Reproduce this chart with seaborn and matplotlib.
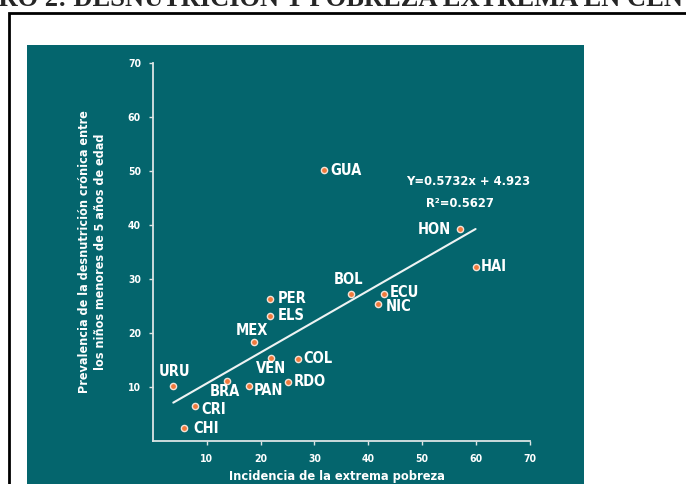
import numpy as np
import pandas as pd
import matplotlib
matplotlib.use("Agg")
import matplotlib.pyplot as plt
from matplotlib.patches import Rectangle
import seaborn as sns

# datos
paises = ["GUA", "HON", "HAI", "BOL", "ECU", "NIC", "PER", "ELS", "MEX",
          "VEN", "COL", "RDO", "BRA", "PAN", "URU", "CRI", "CHI"]
pobreza = [31.8, 57.0, 59.9, 36.7, 42.9, 41.7, 21.7, 21.7, 18.8,
           21.9, 26.9, 25.0, 13.7, 17.9, 3.8, 7.8, 5.7]
desnutricion = [50.1, 39.2, 32.3, 27.2, 27.2, 25.3, 26.3, 23.2, 18.4,
                15.3, 15.2, 11.0, 11.1, 10.2, 10.2, 6.4, 2.4]
pendiente = 0.5732
intercepto = 4.923
r2 = 0.5627
ticks = [10, 20, 30, 40, 50, 60, 70]

titulo = "CUADRO 2: DESNUTRICIÓN Y POBREZA EXTREMA EN CENTROAMÉRICA"
xlab = "Incidencia de la extrema pobreza"
ylab = "Prevalencia de la desnutrición crónica entre\nlos niños menores de 5 años de edad"

# posicion de las etiquetas (px, ha)
offs = {"GUA": (6, 0, "left"), "HON": (-9, 0, "right"), "HAI": (5, 0, "left"),
        "BOL": (-2, 15, "center"), "ECU": (6, 2, "left"), "NIC": (8, -2, "left"),
        "PER": (8, 0, "left"), "ELS": (8, 0, "left"), "MEX": (-2, 11, "center"),
        "VEN": (0, -10, "center"), "COL": (6, 0, "left"), "RDO": (6, 0, "left"),
        "BRA": (-2, -10, "center"), "PAN": (4, -5, "left"), "URU": (1, 14, "center"),
        "CRI": (7, -3, "left"), "CHI": (10, 0, "left")}

df = pd.DataFrame({"pais": paises, "pobreza": pobreza, "desnutricion": desnutricion})

sns.set_style("ticks")
plt.rcParams["font.family"] = ["DejaVu Sans"]
plt.rcParams["font.stretch"] = "condensed"

W, H = 686, 484
fig = plt.figure(figsize=(W / 100, H / 100), dpi=100)
fig.patch.set_facecolor("white")

teal = "#04656d"
lineas = "#dce5e5"

# panel verde y marco
fig.add_artist(Rectangle((27 / W, -0.1), (584 - 27) / W, 1.1 - 45 / H,
                         transform=fig.transFigure, facecolor=teal,
                         edgecolor="none", zorder=0))
fig.add_artist(Rectangle((8.5 / W, -0.1), 2, 1.1 - 12.5 / H,
                         transform=fig.transFigure, facecolor="none",
                         edgecolor="black", lw=2, zorder=1))

# titulo (cortado arriba)
r = fig.canvas.get_renderer()
tmp1 = fig.text(0, 0, "CUAD", fontsize=18, family="Liberation Serif", weight="bold")
tmp2 = fig.text(0, 0, "CUADRO 2: DESNUTRICIÓN Y POBREZA EXTREMA EN C", fontsize=18,
                family="Liberation Serif", weight="bold")
w_pre = tmp1.get_window_extent(r).width
w_c = tmp2.get_window_extent(r).width
tmp1.remove()
tmp2.remove()
esc = 650 / (w_c - w_pre)
fig.text((-w_pre * esc - 1) / W, 1 - 6 / H, titulo, fontsize=18 * esc,
         family="Liberation Serif", weight="bold", va="baseline", ha="left")

ax = fig.add_axes([152.8 / W, 43 / H, 377.2 / W, 378 / H])
ax.set_facecolor("none")

# linea de tendencia
xs = np.array([min(pobreza), max(pobreza)])
trend = pd.DataFrame({"x": xs, "y": pendiente * xs + intercepto})
sns.lineplot(data=trend, x="x", y="y", ax=ax, color="#eef3f3", lw=1.5, zorder=2)

sns.scatterplot(data=df, x="pobreza", y="desnutricion", ax=ax, s=20,
                color="#f07a3c", edgecolor="#f6e2d6", linewidth=1, zorder=3)

for p, xv, yv in zip(paises, pobreza, desnutricion):
    dx, dy, ha = offs[p]
    ax.annotate(p, (xv, yv), xytext=(dx * 0.72, dy * 0.72), textcoords="offset points",
                ha=ha, va="center", color="white", fontsize=10.5, weight="bold", zorder=4)

ax.text(58.5, 48.0, f"Y={pendiente}x + {intercepto}", ha="center", va="center",
        color="white", fontsize=9.3, weight="bold")
ax.text(57.0, 44.0, f"R²={r2}", ha="center", va="center", color="white",
        fontsize=9.3, weight="bold")

ax.set_xlim(0, 70)
ax.set_ylim(0, 70)
ax.set_xticks(ticks)
ax.set_yticks(ticks)
ax.tick_params(colors=lineas, labelcolor="white", length=3, width=1, labelsize=7.5)
ax.tick_params(axis="y", pad=5.5)
ax.tick_params(axis="x", pad=6)
for lbl in ax.get_xticklabels() + ax.get_yticklabels():
    lbl.set_fontweight("bold")
sns.despine(ax=ax)
for s in ["left", "bottom"]:
    ax.spines[s].set_color(lineas)
    ax.spines[s].set_linewidth(1.3)

ax.set_xlabel(xlab, color="white", fontsize=9.2, weight="bold")
ax.xaxis.label.set(ha="center", va="center")
ax.xaxis.set_label_coords(0.488, -0.095)
ax.set_ylabel(ylab, color="white", fontsize=9, linespacing=1.3, weight="bold")
ax.yaxis.label.set(ha="center", va="center", rotation_mode="default")
ax.yaxis.set_label_coords(-0.161, 0.5)

fig.savefig("out.png", dpi=100)
